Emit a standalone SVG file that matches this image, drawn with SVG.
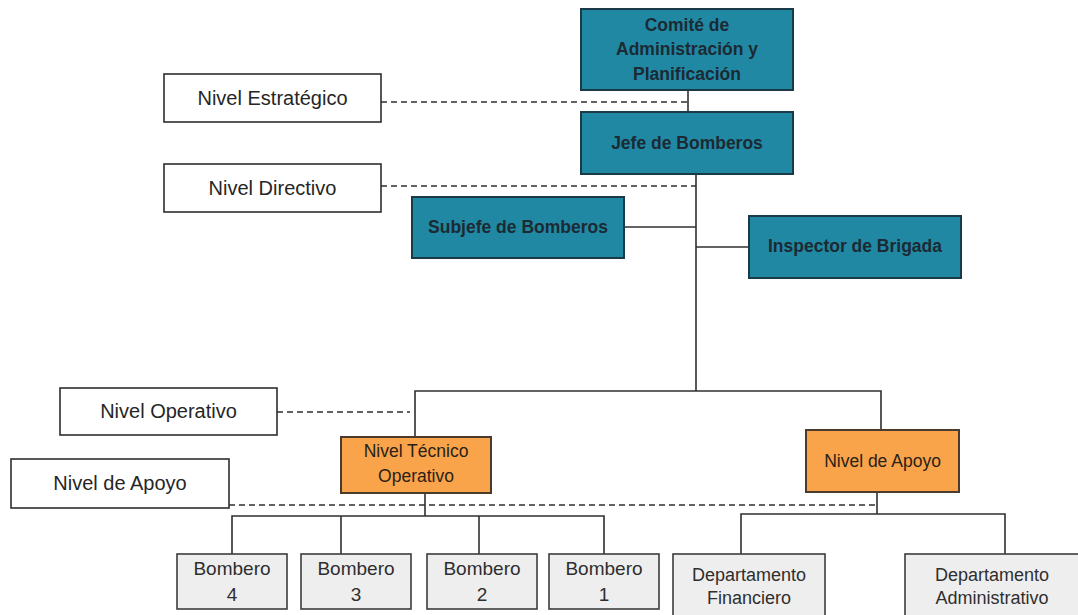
<svg xmlns="http://www.w3.org/2000/svg" width="1078" height="615" viewBox="0 0 1078 615">
<style>
.teal{fill:#2088a3;stroke:#1b3a47;stroke-width:2}
.orange{fill:#f9a44a;stroke:#4a3b2c;stroke-width:2}
.gray{fill:#eeeeee;stroke:#3c3c3c;stroke-width:1.6}
.lbl{fill:#ffffff;stroke:#2e2e2e;stroke-width:1.6}
text{font-family:"Liberation Sans",Arial,sans-serif;text-anchor:middle}
.tt{font-size:17.5px;font-weight:bold;fill:#1c2a33}
.ot{font-size:17.5px;fill:#2a2218}
.gt{font-size:18px;fill:#2e2e2e}
.bt{font-size:19px;fill:#2e2e2e}
.lt{font-size:20px;fill:#262626}
.ln{fill:none;stroke:#2f2f2f;stroke-width:1.6}
.dash{fill:none;stroke:#2f2f2f;stroke-width:1.6;stroke-dasharray:6,4}
</style>
<g id="connectors">
<path class="ln" d="M688 90V112"/>
<path class="ln" d="M696 174V391"/>
<path class="ln" d="M624 227H696"/>
<path class="ln" d="M696 247H749"/>
<path class="ln" d="M415 437V391H881V430"/>
<path class="ln" d="M425 493V516"/>
<path class="ln" d="M232 554V516H604V554"/>
<path class="ln" d="M341 516V554"/>
<path class="ln" d="M479 516V554"/>
<path class="ln" d="M877 492V514"/>
<path class="ln" d="M741 554V514H1005V554"/>
<path class="dash" d="M381 102H688"/>
<path class="dash" d="M381 186H696"/>
<path class="dash" d="M277 412H410"/>
<path class="dash" d="M229 505H877"/>
</g>
<g id="label-estrategico"><rect class="lbl" x="164" y="74" width="217" height="48"/><text class="lt" x="272.5" y="105">Nivel Estratégico</text></g>
<g id="label-directivo"><rect class="lbl" x="164" y="164" width="217" height="48"/><text class="lt" x="272.5" y="195">Nivel Directivo</text></g>
<g id="label-operativo"><rect class="lbl" x="60" y="388" width="217" height="47"/><text class="lt" x="168.5" y="418">Nivel Operativo</text></g>
<g id="label-apoyo"><rect class="lbl" x="11" y="459" width="218" height="49"/><text class="lt" x="120" y="490">Nivel de Apoyo</text></g>
<g id="comite"><rect class="teal" x="581" y="9" width="212" height="81"/><text class="tt" x="687" y="31">Comité de</text><text class="tt" x="687" y="55">Administración y</text><text class="tt" x="687" y="80">Planificación</text></g>
<g id="jefe"><rect class="teal" x="581" y="112" width="212" height="62"/><text class="tt" x="687" y="149">Jefe de Bomberos</text></g>
<g id="subjefe"><rect class="teal" x="412" y="197" width="212" height="61"/><text class="tt" x="518" y="233">Subjefe de Bomberos</text></g>
<g id="inspector"><rect class="teal" x="749" y="216" width="212" height="62"/><text class="tt" x="855" y="252">Inspector de Brigada</text></g>
<g id="tecnico"><rect class="orange" x="341" y="437" width="150" height="56"/><text class="ot" x="416" y="457">Nivel Técnico</text><text class="ot" x="416" y="482">Operativo</text></g>
<g id="apoyo"><rect class="orange" x="806" y="430" width="153" height="62"/><text class="ot" x="882.5" y="467">Nivel de Apoyo</text></g>
<g id="bombero4"><rect class="gray" x="177" y="554" width="110" height="55"/><text class="bt" x="232" y="575">Bombero</text><text class="bt" x="232" y="601">4</text></g>
<g id="bombero3"><rect class="gray" x="301" y="554" width="110" height="55"/><text class="bt" x="356" y="575">Bombero</text><text class="bt" x="356" y="601">3</text></g>
<g id="bombero2"><rect class="gray" x="427" y="554" width="110" height="55"/><text class="bt" x="482" y="575">Bombero</text><text class="bt" x="482" y="601">2</text></g>
<g id="bombero1"><rect class="gray" x="549" y="554" width="110" height="55"/><text class="bt" x="604" y="575">Bombero</text><text class="bt" x="604" y="601">1</text></g>
<g id="dep-financiero"><rect class="gray" x="673" y="554" width="152" height="70"/><text class="gt" x="749" y="581">Departamento</text><text class="gt" x="749" y="604">Financiero</text></g>
<g id="dep-administrativo"><rect class="gray" x="905" y="554" width="180" height="70"/><text class="gt" x="992" y="581">Departamento</text><text class="gt" x="992" y="604">Administrativo</text></g>
</svg>
